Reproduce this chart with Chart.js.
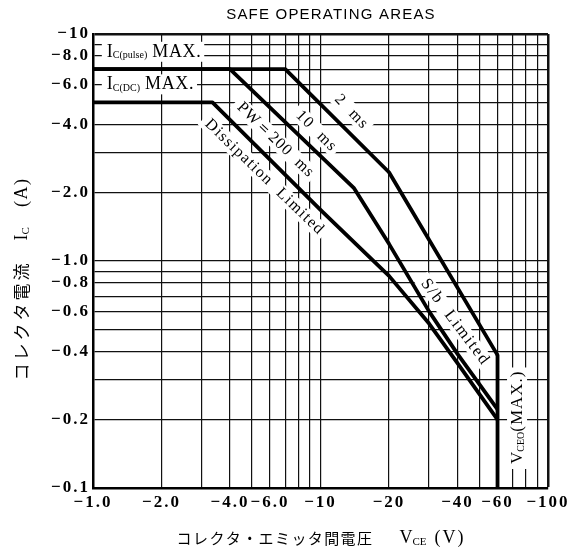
<!DOCTYPE html>
<html>
<head>
<meta charset="utf-8">
<script src="https://cdn.jsdelivr.net/npm/chart.js"></script>
<style>
  body { margin: 0; background: #fff; }
  #wrap { width: 579px; height: 556px; position: relative; }
</style>
</head>
<body>
<div id="wrap"><canvas id="soaChart"></canvas></div>
<script>
// Safe operating area (|VCE| in V, |IC| in A)
const vce2ms = [1, 7, 20, 60];
const ic2ms = [7, 7, 2.46, 0.385];

const vce10ms = [1, 4, 14, 20, 30, 40, 60];
const ic10ms = [7, 7, 2.1, 1.19, 0.6, 0.39, 0.222];

const vceDC = [1, 3.35, 10, 20, 30, 40, 60];
const icDC = [5, 5, 1.68, 0.86, 0.53, 0.355, 0.2];

// VCEO(MAX.) limit
const vceoV = [60, 60];
const vceoI = [0.385, 0.1];

// grid lines and tick labels
const xGrid = [1, 2, 3, 4, 5, 6, 7, 8, 9, 10, 20, 30, 40, 50, 60, 70, 80, 90, 100];
const yGrid = [0.1, 0.2, 0.3, 0.4, 0.5, 0.6, 0.7, 0.8, 0.9, 1, 2, 3, 4, 5, 6, 7, 8, 9, 10];
const xTickValues = [1, 2, 4, 6, 10, 20, 40, 60, 100];
const xTickLabels = ['−1.0', '−2.0', '−4.0', '−6.0', '−10', '−20', '−40', '−60', '−100'];
const yTickValues = [0.1, 0.2, 0.4, 0.6, 0.8, 1, 2, 4, 6, 8, 10];
const yTickLabels = ['−0.1', '−0.2', '−0.4', '−0.6', '−0.8', '−1.0', '−2.0', '−4.0', '−6.0', '−8.0', '−10'];

const SERIF = '"Liberation Serif", "DejaVu Serif", serif';
const SANS = '"Liberation Sans", Arial, sans-serif';
const CJK = '"Noto Sans CJK JP", sans-serif';

// annotations written on the plot, anchored in data units
const notes = [
    { at: [1.15, 8.35], align: 'left', angle: 0, h: 20,
      parts: [{ t: 'I', size: 18 }, { t: 'C(pulse)', size: 10, dy: 4 }, { t: ' MAX.', size: 18, sp: 0.6 }] },
    { at: [1.15, 6.0], align: 'left', angle: 0, h: 20,
      parts: [{ t: 'I', size: 18 }, { t: 'C(DC)', size: 10, dy: 4 }, { t: ' MAX.', size: 18, sp: 0.6 }] },
    { at: [13.7, 4.53], angle: 46, h: 17, parts: [{ t: '2  ms', size: 16, sp: 1.5 }] },
    { at: [9.6, 3.73], angle: 45, h: 17, parts: [{ t: '10  ms', size: 16, sp: 1.5 }] },
    { at: [6.35, 3.41], angle: 44, h: 17, parts: [{ t: 'PW＝200  ms', size: 16, sp: 1 }] },
    { at: [5.68, 2.34], angle: 44, h: 17, parts: [{ t: 'Dissipation  Limited', size: 16, sp: 1.4 }] },
    { at: [39.1, 0.537], angle: 53, h: 17, parts: [{ t: 'S/b  Limited', size: 16.5, sp: 1.8 }] },
    { at: [73.1, 0.205], angle: -90, h: 20,
      parts: [{ t: 'V', size: 17 }, { t: 'CEO', size: 10, dy: 4 }, { t: '(MAX.)', size: 17, sp: 1 }] }
];

function fontOf(p) {
    return (p.size) + 'px ' + (p.cjk ? CJK : (p.sans ? SANS : SERIF));
}

function measureParts(ctx, parts) {
    let w = 0;
    parts.forEach(p => {
        ctx.font = fontOf(p);
        ctx.letterSpacing = (p.sp || 0) + 'px';
        p.w = ctx.measureText(p.t).width;
        w += (p.gap || 0) + p.w;
    });
    return w;
}

function paintParts(ctx, parts, x, y) {
    parts.forEach(p => {
        x += p.gap || 0;
        ctx.font = fontOf(p);
        ctx.letterSpacing = (p.sp || 0) + 'px';
        ctx.fillText(p.t, x, y + (p.dy || 0));
        x += p.w;
    });
}

function writeAt(ctx, parts, cx, cy, angle, opts) {
    opts = opts || {};
    ctx.save();
    const w = measureParts(ctx, parts);
    ctx.translate(cx, cy);
    ctx.rotate(angle * Math.PI / 180);
    const x0 = opts.align === 'left' ? 0 : -w / 2;
    if (opts.h) {
        ctx.fillStyle = '#fff';
        ctx.fillRect(x0 - 5, -opts.h / 2, w + 8, opts.h);
    }
    ctx.fillStyle = '#000';
    ctx.textAlign = 'left';
    ctx.textBaseline = 'middle';
    paintParts(ctx, parts, x0, 0);
    ctx.restore();
}

// the sheet's tick numbers are set with wide letter spacing
const TICK_SPACING = '2px';

const sheetText = {
    id: 'sheetText',
    beforeLayout(chart) { chart.ctx.letterSpacing = TICK_SPACING; },
    beforeDraw(chart) { chart.ctx.letterSpacing = TICK_SPACING; },
    beforeDatasetsDraw(chart) {
        const ctx = chart.ctx;
        const xs = chart.scales.x, ys = chart.scales.y;
        notes.forEach(n => {
            writeAt(ctx, n.parts, xs.getPixelForValue(n.at[0]), ys.getPixelForValue(n.at[1]),
                n.angle, { align: n.align, h: n.h });
        });
    },
    afterDraw(chart) {
        const ctx = chart.ctx;
        // title
        writeAt(ctx, [{ t: 'SAFE OPERATING AREAS', size: 15, sans: true, sp: 1.2 }], 331, 15, 0);
        // y axis title
        writeAt(ctx, [
            { t: 'コレクタ電流', size: 17, cjk: true, sp: 3 },
            { t: 'I', size: 18, gap: 20 },
            { t: 'C', size: 11, dy: 4 },
            { t: '(A)', size: 18, gap: 20, sp: 1.5 }
        ], 22, 279, -90);
        // x axis title
        writeAt(ctx, [
            { t: 'コレクタ・エミッタ間電圧', size: 15, cjk: true, sp: 1.4 },
            { t: 'V', size: 18, gap: 26 },
            { t: 'CE', size: 11, dy: 4 },
            { t: '(V)', size: 18, gap: 8, sp: 2 }
        ], 321, 538, 0);
    }
};

const pts = (xs, ys) => xs.map((x, i) => ({ x: x, y: ys[i] }));
const curve = { borderColor: '#000', borderWidth: 3.8, pointRadius: 0, showLine: true, fill: false,
    tension: 0, borderJoinStyle: 'round' };

const tickFont = { family: SERIF, size: 17, weight: 'bold' };

new Chart(document.getElementById('soaChart'), {
    type: 'scatter',
    data: {
        datasets: [
            Object.assign({ label: '2 ms', data: pts(vce2ms, ic2ms) }, curve),
            Object.assign({ label: '10 ms', data: pts(vce10ms, ic10ms) }, curve),
            Object.assign({ label: 'DC', data: pts(vceDC, icDC) }, curve),
            Object.assign({ label: 'VCEO', data: pts(vceoV, vceoI) }, curve)
        ]
    },
    options: {
        responsive: true,
        maintainAspectRatio: false,
        animation: false,
        layout: { padding: { top: 34, right: 31, left: 0, bottom: 0 } },
        plugins: {
            legend: { display: false },
            tooltip: { enabled: false }
        },
        scales: {
            x: {
                type: 'logarithmic',
                min: 1,
                max: 100,
                afterBuildTicks: s => { s.ticks = xGrid.map(v => ({ value: v })); },
                afterFit: s => { s.height = 68; },
                grid: {
                    color: '#111',
                    drawTicks: false,
                    lineWidth: c => (c.tick && c.tick.value === 100) ? 2.5 : 1.2
                },
                border: { display: true, color: '#000', width: 2.5 },
                ticks: {
                    autoSkip: false,
                    maxRotation: 0,
                    padding: 4,
                    color: '#000',
                    font: tickFont,
                    callback: v => {
                        const i = xTickValues.indexOf(v);
                        return i < 0 ? '' : xTickLabels[i];
                    }
                }
            },
            y: {
                type: 'logarithmic',
                min: 0.1,
                max: 10,
                afterBuildTicks: s => { s.ticks = yGrid.map(v => ({ value: v })); },
                afterFit: s => { s.width = 93; },
                grid: {
                    color: '#111',
                    drawTicks: false,
                    lineWidth: c => (c.tick && c.tick.value === 10) ? 2.5 : 1.2
                },
                border: { display: true, color: '#000', width: 2.5 },
                ticks: {
                    autoSkip: false,
                    padding: 3,
                    color: '#000',
                    font: tickFont,
                    callback: v => {
                        const i = yTickValues.indexOf(v);
                        return i < 0 ? '' : yTickLabels[i];
                    }
                }
            }
        }
    },
    plugins: [sheetText]
});
</script>
</body>
</html>
